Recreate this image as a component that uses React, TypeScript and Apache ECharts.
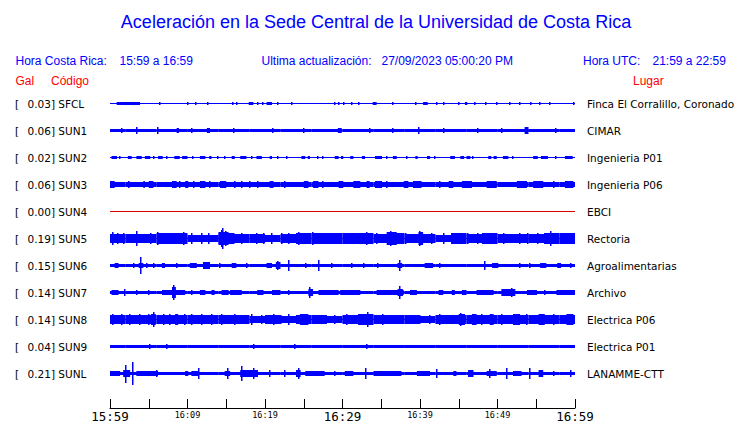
import React, { useEffect, useRef } from "react";
import * as echarts from "echarts";

// ---------- texts ----------
const titleText = "Aceleración en la Sede Central de la Universidad de Costa Rica";
const crLabel = "Hora Costa Rica:";
const crRange = "15:59 a 16:59";
const updLabel = "Ultima actualización:";
const updValue = "27/09/2023 05:00:20 PM";
const utcLabel = "Hora UTC:";
const utcRange = "21:59 a 22:59";
const headGal = "Gal";
const headCode = "Código";
const headPlace = "Lugar";

// ---------- categories ----------
const stations = ["SFCL", "SUN1", "SUN2", "SUN3", "SUN4", "SUN5", "SUN6", "SUN7", "SUN8", "SUN9", "SUNL"];
const peakGal = ["0.03", "0.06", "0.02", "0.06", "0.00", "0.19", "0.15", "0.14", "0.14", "0.04", "0.21"];
const places = [
  "Finca El Corralillo, Coronado", "CIMAR", "Ingenieria P01", "Ingenieria P06", "EBCI", "Rectoria",
  "Agroalimentarias", "Archivo", "Electrica P06", "Electrica P01", "LANAMME-CTT",
];

// ---------- time axis ----------
const tickMinutes = [0, 10, 20, 30, 40, 50, 60];
const tickLabels = ["15:59", "16:09", "16:19", "16:29", "16:39", "16:49", "16:59"];
const majorLabels = ["15:59", "16:29", "16:59"];

// ---------- traces: background envelope (Gal, per 2-minute bin) ----------
const sfclBase = [0, 0, 0, 0, 0, 0, 0, 0, 0, 0, 0, 0, 0, 0, 0, 0, 0, 0, 0, 0, 0, 0, 0, 0, 0, 0, 0, 0, 0, 0];
const sun1Base = [0.03, 0.03, 0.032, 0.03, 0.03, 0.03, 0.028, 0.03, 0.03, 0.03, 0.03, 0.03, 0.028, 0.03, 0.03, 0.03, 0.03, 0.03, 0.03, 0.03, 0.03, 0.028, 0.03, 0.03, 0.03, 0.03, 0.032, 0.03, 0.03, 0.03];
const sun2Base = [0, 0, 0, 0, 0, 0, 0, 0, 0, 0, 0, 0, 0, 0, 0, 0, 0, 0, 0, 0, 0, 0, 0, 0, 0, 0, 0, 0, 0, 0];
const sun3Base = [0.038, 0.038, 0.038, 0.038, 0.038, 0.038, 0.038, 0.038, 0.038, 0.038, 0.038, 0.038, 0.038, 0.038, 0.038, 0.038, 0.038, 0.038, 0.038, 0.038, 0.038, 0.038, 0.038, 0.038, 0.038, 0.038, 0.038, 0.038, 0.038, 0.038];
const sun4Base = [0, 0, 0, 0, 0, 0, 0, 0, 0, 0, 0, 0, 0, 0, 0, 0, 0, 0, 0, 0, 0, 0, 0, 0, 0, 0, 0, 0, 0, 0];
const sun5Base = [0.088, 0.08, 0.08, 0.098, 0.098, 0.071, 0.071, 0.089, 0.08, 0.08, 0.071, 0.08, 0.089, 0.089, 0.089, 0.089, 0.089, 0.08, 0.098, 0.08, 0.08, 0.071, 0.089, 0.08, 0.089, 0.08, 0.08, 0.08, 0.089, 0.098];
const sun6Base = [0.033, 0.033, 0.033, 0.033, 0.033, 0.033, 0.033, 0.033, 0.033, 0.033, 0.033, 0.033, 0.033, 0.033, 0.033, 0.033, 0.033, 0.033, 0.033, 0.033, 0.033, 0.033, 0.033, 0.033, 0.033, 0.033, 0.033, 0.033, 0.033, 0.033];
const sun7Base = [0.033, 0.033, 0.033, 0.033, 0.035, 0.033, 0.033, 0.033, 0.033, 0.033, 0.033, 0.033, 0.033, 0.033, 0.033, 0.033, 0.033, 0.033, 0.033, 0.033, 0.033, 0.033, 0.033, 0.033, 0.033, 0.035, 0.033, 0.033, 0.033, 0.033];
const sun8Base = [0.085, 0.075, 0.085, 0.08, 0.08, 0.08, 0.075, 0.08, 0.075, 0.07, 0.075, 0.07, 0.08, 0.075, 0.07, 0.085, 0.09, 0.075, 0.075, 0.075, 0.07, 0.075, 0.085, 0.08, 0.08, 0.075, 0.08, 0.085, 0.075, 0.08];
const sun9Base = [0.03, 0.03, 0.03, 0.03, 0.03, 0.03, 0.03, 0.03, 0.03, 0.03, 0.03, 0.03, 0.03, 0.03, 0.03, 0.03, 0.03, 0.03, 0.03, 0.03, 0.03, 0.03, 0.03, 0.03, 0.03, 0.03, 0.03, 0.03, 0.03, 0.03];
const sunlBase = [0.03, 0.03, 0.03, 0.03, 0.03, 0.03, 0.03, 0.03, 0.03, 0.03, 0.03, 0.03, 0.03, 0.03, 0.03, 0.03, 0.03, 0.03, 0.03, 0.03, 0.03, 0.03, 0.03, 0.03, 0.03, 0.03, 0.03, 0.03, 0.03, 0.03];

// ---------- traces: bursts and spikes [startMin, endMin, amplitude Gal] ----------
const sfclBursts = [
  [0.86, 3.87, 0.02], [2.0, 2.0, 0.03], [6.4, 6.4, 0.025], [10.0, 10.0, 0.03], [11.0, 11.0, 0.025], [12.6, 12.6, 0.025],
  [15.8, 15.8, 0.025], [16.3, 16.3, 0.03], [17.9, 18.5, 0.02], [19.1, 19.1, 0.03], [19.7, 19.7, 0.025], [20.2, 20.9, 0.02],
  [21.6, 21.6, 0.025], [23.5, 23.5, 0.025], [29.0, 29.0, 0.03], [29.5, 29.5, 0.025], [30.2, 30.2, 0.03], [31.2, 31.2, 0.025],
  [32.1, 32.1, 0.03], [33.9, 34.4, 0.02], [34.0, 34.0, 0.03], [36.5, 36.5, 0.03], [39.4, 39.4, 0.025], [40.4, 41.0, 0.02],
  [42.2, 42.2, 0.025], [43.0, 43.0, 0.025], [45.0, 45.0, 0.025], [45.8, 46.1, 0.02], [47.1, 47.1, 0.025], [48.5, 48.5, 0.025],
  [49.9, 49.9, 0.025], [51.6, 51.6, 0.025], [52.9, 52.9, 0.025], [54.3, 54.3, 0.025], [55.5, 55.5, 0.025], [56.8, 56.8, 0.025],
  [59.9, 59.9, 0.03],
];
const sun1Bursts = [
  [3.5, 3.5, 0.06], [6.2, 6.2, 0.06], [8.6, 8.9, 0.045], [12.5, 12.9, 0.05], [29.4, 29.9, 0.048], [39.8, 39.8, 0.06],
  [53.5, 54.0, 0.055], [1.5, 1.5, 0.04], [10.5, 10.5, 0.04], [16.0, 16.0, 0.04], [21.0, 21.0, 0.04], [25.0, 25.0, 0.04],
  [33.5, 33.5, 0.04], [36.5, 36.5, 0.04], [43.0, 43.0, 0.04], [47.5, 47.5, 0.04], [50.5, 50.5, 0.04], [57.5, 57.5, 0.04],
];
const sun2Bursts = [
  [0.2, 0.9, 0.02], [1.2, 1.2, 0.02], [2.3, 2.8, 0.02], [3.4, 4.1, 0.02], [4.5, 5.2, 0.02], [5.6, 5.6, 0.02],
  [6.2, 6.8, 0.02], [7.3, 7.3, 0.02], [8.3, 9.0, 0.02], [9.3, 10.0, 0.02], [10.7, 10.7, 0.02], [11.6, 12.3, 0.02],
  [12.8, 13.1, 0.02], [13.9, 13.9, 0.02], [14.8, 14.8, 0.02], [15.7, 16.1, 0.02], [16.8, 17.6, 0.02], [18.3, 18.3, 0.02],
  [18.9, 19.6, 0.02], [20.6, 20.9, 0.02], [21.7, 21.7, 0.02], [22.8, 22.8, 0.02], [24.7, 25.2, 0.02], [25.5, 25.8, 0.02],
  [26.8, 26.8, 0.02], [27.5, 27.5, 0.02], [29.0, 29.5, 0.02], [29.8, 30.1, 0.02], [31.0, 31.4, 0.02], [32.5, 32.9, 0.02],
  [34.2, 35.1, 0.02], [35.7, 35.7, 0.02], [36.5, 37.0, 0.02], [38.3, 38.3, 0.02], [39.4, 39.7, 0.02], [40.9, 41.3, 0.02],
  [41.9, 41.9, 0.02], [43.9, 44.5, 0.02], [45.2, 45.7, 0.02], [46.0, 46.5, 0.02], [46.8, 46.8, 0.02], [48.8, 49.2, 0.02],
  [49.5, 49.9, 0.02], [50.7, 51.4, 0.02], [52.0, 52.0, 0.02], [54.6, 55.2, 0.02], [55.6, 56.5, 0.02], [57.5, 57.5, 0.02],
  [58.7, 59.7, 0.02],
];
const sun3Bursts = [
  [0.0, 0.6, 0.064], [2.4, 2.4, 0.058], [4.3, 4.5, 0.058], [5.0, 5.6, 0.058], [8.0, 8.6, 0.058], [9.0, 9.0, 0.058],
  [9.7, 10.1, 0.058], [10.8, 10.8, 0.058], [11.6, 12.3, 0.058], [11.9, 11.9, 0.066], [12.9, 12.9, 0.058], [14.2, 15.0, 0.058],
  [16.1, 16.1, 0.058], [17.0, 17.0, 0.058], [18.0, 18.0, 0.058], [19.1, 19.1, 0.058], [20.6, 21.1, 0.058], [22.6, 22.6, 0.058],
  [25.0, 25.6, 0.064], [26.2, 26.9, 0.058], [27.5, 27.5, 0.058], [29.5, 30.1, 0.058], [31.4, 32.3, 0.058], [33.1, 33.5, 0.058],
  [34.2, 35.1, 0.058], [35.7, 35.7, 0.058], [37.9, 38.5, 0.058], [39.1, 40.2, 0.058], [42.6, 42.6, 0.058], [43.7, 44.3, 0.058],
  [45.4, 46.7, 0.058], [48.6, 49.9, 0.058], [52.5, 53.8, 0.058], [54.6, 55.9, 0.064], [57.2, 57.2, 0.058], [58.7, 59.8, 0.058],
];
const sun4Bursts: number[][] = [];
const sun5Bursts = [
  [0.3, 0.3, 0.11], [1.0, 1.0, 0.1], [1.8, 1.8, 0.1], [3.4, 3.4, 0.13], [5.2, 5.2, 0.1], [6.2, 6.2, 0.11], [6.9, 6.9, 0.1],
  [7.8, 7.8, 0.1], [9.0, 9.0, 0.1], [9.5, 9.5, 0.115], [10.5, 10.5, 0.095], [11.8, 11.8, 0.09], [12.8, 12.8, 0.09],
  [14.0, 15.3, 0.11], [14.4, 14.4, 0.15], [14.6, 14.6, 0.19], [14.9, 14.9, 0.14], [16.0, 16.0, 0.095], [17.0, 17.0, 0.1],
  [18.9, 18.9, 0.09], [19.8, 19.8, 0.09], [20.9, 20.9, 0.1], [22.2, 22.2, 0.095], [23.1, 23.1, 0.1], [24.3, 24.3, 0.12],
  [25.4, 25.4, 0.1], [26.2, 26.2, 0.11], [27.6, 27.6, 0.1], [28.3, 28.3, 0.095], [29.0, 29.0, 0.1], [30.5, 30.5, 0.1],
  [31.8, 31.8, 0.1], [33.1, 33.1, 0.11], [34.4, 34.4, 0.095], [35.7, 37.0, 0.12], [36.2, 36.2, 0.14], [38.2, 38.2, 0.095],
  [39.8, 40.4, 0.11], [40.0, 40.0, 0.125], [41.5, 41.5, 0.09], [43.0, 43.0, 0.09], [44.2, 44.9, 0.1], [46.2, 46.2, 0.1],
  [47.5, 47.5, 0.095], [49.0, 49.6, 0.105], [50.8, 50.8, 0.09], [52.9, 52.9, 0.1], [53.9, 53.9, 0.1], [55.2, 55.2, 0.095],
  [56.5, 57.2, 0.1], [56.9, 56.9, 0.125], [58.4, 58.4, 0.1], [59.8, 59.8, 0.1],
];
const sun6Bursts = [
  [0.6, 1.1, 0.045], [3.0, 3.0, 0.045], [3.7, 4.3, 0.05], [4.0, 4.0, 0.15], [4.8, 4.8, 0.04], [5.6, 5.6, 0.04],
  [6.7, 7.1, 0.045], [8.6, 8.6, 0.04], [10.3, 11.2, 0.05], [12.0, 12.9, 0.06], [12.4, 12.4, 0.07], [14.2, 14.2, 0.045],
  [15.7, 16.3, 0.045], [17.6, 17.6, 0.045], [20.2, 20.9, 0.045], [21.4, 22.0, 0.06], [21.7, 21.7, 0.075], [23.0, 23.0, 0.105],
  [25.2, 25.2, 0.045], [26.9, 26.9, 0.09], [28.6, 28.6, 0.05], [31.2, 31.2, 0.045], [32.7, 32.7, 0.045], [34.6, 34.6, 0.045],
  [37.1, 37.7, 0.05], [37.4, 37.4, 0.1], [40.6, 41.7, 0.045], [42.6, 42.6, 0.045], [48.4, 48.4, 0.085], [49.3, 50.1, 0.04],
  [52.9, 52.9, 0.04], [54.2, 54.2, 0.05], [55.5, 56.3, 0.045], [57.7, 58.2, 0.05], [59.4, 59.4, 0.045],
];
const sun7Bursts = [
  [0.2, 1.1, 0.045], [1.85, 1.85, 0.06], [3.5, 3.5, 0.04], [5.0, 5.0, 0.04], [6.7, 9.7, 0.05], [8.0, 8.5, 0.09],
  [8.2, 8.2, 0.14], [10.5, 10.5, 0.05], [11.6, 12.3, 0.05], [13.1, 13.5, 0.045], [14.4, 15.3, 0.045], [15.5, 17.0, 0.05],
  [19.0, 19.8, 0.05], [20.9, 22.0, 0.045], [23.0, 23.0, 0.045], [25.6, 26.2, 0.055], [25.8, 25.8, 0.09], [26.9, 29.5, 0.04],
  [27.6, 27.6, 0.05], [29.7, 32.3, 0.045], [34.4, 37.9, 0.045], [37.1, 37.8, 0.07], [37.4, 37.4, 0.11], [38.7, 39.6, 0.05],
  [42.4, 43.0, 0.045], [44.1, 44.5, 0.04], [45.4, 46.0, 0.045], [47.3, 49.5, 0.045], [50.5, 52.3, 0.055], [51.8, 51.8, 0.075],
  [53.8, 55.1, 0.045], [56.1, 56.1, 0.045], [57.6, 60.0, 0.045],
];
const sun8Bursts = [
  [0.4, 0.4, 0.1], [1.5, 1.5, 0.1], [2.6, 2.6, 0.09], [3.9, 3.9, 0.09], [5.0, 5.0, 0.1], [5.3, 5.9, 0.1], [5.6, 5.6, 0.14],
  [6.9, 6.9, 0.1], [7.7, 7.7, 0.09], [8.4, 8.8, 0.09], [9.6, 9.6, 0.09], [10.5, 10.5, 0.095], [11.8, 11.8, 0.09],
  [13.1, 13.1, 0.1], [14.4, 14.4, 0.1], [16.1, 16.1, 0.09], [17.2, 17.2, 0.085], [18.3, 18.3, 0.09], [19.6, 19.6, 0.085],
  [21.1, 21.1, 0.1], [22.0, 22.0, 0.085], [23.0, 23.0, 0.09], [24.5, 25.6, 0.095], [25.2, 25.2, 0.105], [27.0, 27.0, 0.085],
  [29.0, 29.0, 0.085], [30.5, 30.5, 0.09], [32.3, 33.8, 0.1], [33.3, 33.3, 0.14], [35.2, 35.2, 0.09], [36.8, 36.8, 0.085],
  [38.4, 38.4, 0.085], [40.0, 40.0, 0.085], [41.2, 41.2, 0.085], [42.6, 42.6, 0.09], [43.8, 43.8, 0.085], [45.0, 45.8, 0.1],
  [45.2, 45.2, 0.11], [46.7, 47.3, 0.1], [48.0, 48.0, 0.09], [49.0, 49.5, 0.1], [50.6, 50.6, 0.09], [52.0, 52.9, 0.09],
  [53.8, 53.8, 0.09], [55.3, 56.1, 0.105], [57.3, 57.3, 0.09], [58.9, 59.8, 0.09],
];
const sun9Bursts = [
  [5.1, 5.1, 0.04], [7.3, 7.3, 0.04], [18.5, 18.5, 0.04], [23.9, 23.9, 0.04], [29.0, 29.0, 0.035], [31.2, 31.2, 0.035],
  [33.1, 33.1, 0.05], [37.9, 37.9, 0.035], [39.5, 39.5, 0.035], [42.2, 42.2, 0.035], [44.7, 44.7, 0.035], [59.1, 59.1, 0.035],
];
const sunlBursts = [
  [0.0, 1.3, 0.04], [1.7, 2.6, 0.06], [2.0, 2.0, 0.16], [2.9, 2.9, 0.21], [3.4, 6.2, 0.045], [6.0, 6.0, 0.06],
  [9.7, 10.1, 0.04], [10.5, 11.4, 0.045], [11.4, 11.4, 0.09], [14.8, 15.5, 0.05], [15.2, 15.2, 0.09], [16.8, 19.1, 0.055],
  [17.0, 17.0, 0.125], [18.6, 18.6, 0.105], [20.6, 20.6, 0.07], [22.6, 22.6, 0.07], [24.0, 24.6, 0.055], [24.3, 24.3, 0.105],
  [25.2, 27.7, 0.04], [29.0, 29.0, 0.045], [30.3, 31.4, 0.05], [33.0, 33.0, 0.105], [34.0, 37.6, 0.04], [39.6, 41.3, 0.04],
  [42.2, 42.2, 0.08], [44.3, 44.7, 0.04], [46.2, 46.9, 0.055], [48.6, 49.9, 0.05], [49.0, 49.0, 0.08], [51.2, 51.2, 0.1],
  [52.0, 53.1, 0.045], [54.2, 54.2, 0.105], [55.3, 55.9, 0.055], [57.2, 57.2, 0.04], [59.4, 59.4, 0.055],
];

const traceBases = [sfclBase, sun1Base, sun2Base, sun3Base, sun4Base, sun5Base, sun6Base, sun7Base, sun8Base, sun9Base, sunlBase];
const traceBursts = [sfclBursts, sun1Bursts, sun2Bursts, sun3Bursts, sun4Bursts, sun5Bursts, sun6Bursts, sun7Bursts, sun8Bursts, sun9Bursts, sunlBursts];

const BLUE = "#0000ff";
const RED = "#ff0000";
const TRACE_RED = "#e00000";
const LEFT = 110;
const WIDTH = 465;
const ROW0 = 103.5;
const ROW_STEP = 27;
const ROW_H = 27;
const Y_HALF = 0.24;
const LABEL_FONT = "DejaVu Sans";
const HEAD_FONT = "Liberation Sans";

function rectRender(color: string) {
  return (params: any, api: any) => {
    const a = api.value(2);
    if (!(a > 0)) return null;
    const p1 = api.coord([api.value(0), a]);
    const p2 = api.coord([api.value(1), -a]);
    let x = p1[0];
    let w = p2[0] - p1[0];
    if (w < 1.5) {
      x = Math.round((p1[0] + p2[0]) / 2 - 0.75);
      w = 1.5;
    }
    const y1 = Math.round(p1[1]);
    const y2 = Math.max(Math.round(p2[1]), y1 + 2);
    return {
      type: "rect",
      shape: { x, y: y1, width: w, height: y2 - y1 },
      style: { fill: color },
    };
  };
}

export default function App() {
  const ref = useRef<HTMLDivElement>(null);

  useEffect(() => {
    if (!ref.current) return;
    const chart = echarts.init(ref.current, undefined, { renderer: "svg" });

    const n = stations.length;
    const grids: any[] = [];
    const xAxes: any[] = [];
    const yAxes: any[] = [];
    const series: any[] = [];

    for (let i = 0; i < n; i++) {
      const color = stations[i] === "SUN4" ? TRACE_RED : BLUE;
      grids.push({ left: LEFT, width: WIDTH, top: ROW0 - ROW_H / 2 + i * ROW_STEP, height: ROW_H });
      xAxes.push({ type: "value", gridIndex: i, min: 0, max: 60, show: false });
      yAxes.push({ type: "value", gridIndex: i, min: -Y_HALF, max: Y_HALF, show: false });
      series.push({
        type: "line",
        xAxisIndex: i,
        yAxisIndex: i,
        data: [[0, 0], [60, 0]],
        symbol: "none",
        silent: true,
        lineStyle: { color, width: 1 },
      });
      series.push({
        type: "custom",
        xAxisIndex: i,
        yAxisIndex: i,
        silent: true,
        encode: { x: [0, 1], y: 2 },
        data: traceBases[i].map((a, k) => [k * 2, k * 2 + 2, a]),
        renderItem: rectRender(color),
      });
      series.push({
        type: "custom",
        xAxisIndex: i,
        yAxisIndex: i,
        silent: true,
        encode: { x: [0, 1], y: 2 },
        data: traceBursts[i],
        renderItem: rectRender(color),
      });
    }

    // time axis
    grids.push({ left: LEFT, width: WIDTH, top: 399, height: 10 });
    xAxes.push({
      type: "value",
      gridIndex: n,
      min: 0,
      max: 60,
      interval: 5,
      position: "bottom",
      axisLine: { show: true, lineStyle: { color: "#000", width: 1 } },
      axisTick: { show: true, inside: true, length: 9, lineStyle: { color: "#000", width: 1 } },
      splitLine: { show: false },
      axisLabel: {
        show: true,
        margin: 2,
        showMinLabel: true,
        showMaxLabel: true,
        hideOverlap: false,
        formatter: (v: number) => {
          const idx = tickMinutes.indexOf(Math.round(v));
          if (idx < 0) return "";
          const lab = tickLabels[idx];
          return majorLabels.indexOf(lab) >= 0 ? `{big|${lab}}` : `{small|${lab}}`;
        },
        rich: {
          big: { fontFamily: "DejaVu Sans Mono", fontSize: 12.5, color: "#000", lineHeight: 13 },
          small: { fontFamily: "DejaVu Sans Mono", fontSize: 8.5, color: "#000", lineHeight: 10 },
        },
      },
    });
    yAxes.push({ type: "value", gridIndex: n, min: 0, max: 1, show: false });
    series.push({ type: "line", xAxisIndex: n, yAxisIndex: n, data: [], silent: true });

    const graphic: any[] = [
      {
        type: "text",
        x: 376,
        y: 22,
        style: { text: titleText, font: `18px '${HEAD_FONT}'`, fill: BLUE, textAlign: "center", textVerticalAlign: "middle" },
      },
      { type: "text", x: 15.5, y: 61, style: { text: crLabel, font: `12px '${HEAD_FONT}'`, fill: BLUE, textVerticalAlign: "middle" } },
      { type: "text", x: 119.5, y: 61, style: { text: crRange, font: `12px '${HEAD_FONT}'`, fill: BLUE, textVerticalAlign: "middle" } },
      { type: "text", x: 261.5, y: 61, style: { text: updLabel, font: `12px '${HEAD_FONT}'`, fill: BLUE, textVerticalAlign: "middle" } },
      { type: "text", x: 381.5, y: 61, style: { text: updValue, font: `12px '${HEAD_FONT}'`, fill: BLUE, textVerticalAlign: "middle" } },
      { type: "text", x: 583, y: 61, style: { text: utcLabel, font: `12px '${HEAD_FONT}'`, fill: BLUE, textVerticalAlign: "middle" } },
      { type: "text", x: 652.5, y: 61, style: { text: utcRange, font: `12px '${HEAD_FONT}'`, fill: BLUE, textVerticalAlign: "middle" } },
      { type: "text", x: 15.5, y: 81, style: { text: headGal, font: `12px '${HEAD_FONT}'`, fill: RED, textVerticalAlign: "middle" } },
      { type: "text", x: 51, y: 81, style: { text: headCode, font: `12px '${HEAD_FONT}'`, fill: RED, textVerticalAlign: "middle" } },
      { type: "text", x: 633, y: 81, style: { text: headPlace, font: `12px '${HEAD_FONT}'`, fill: RED, textVerticalAlign: "middle" } },
    ];
    for (let i = 0; i < n; i++) {
      const cy = ROW0 + i * ROW_STEP;
      graphic.push({ type: "text", x: 15, y: cy, style: { text: "[", font: `10.5px '${LABEL_FONT}'`, fill: "#000", textVerticalAlign: "middle" } });
      graphic.push({
        type: "text",
        x: 27.5,
        y: cy,
        style: { text: `${peakGal[i]}] ${stations[i]}`, font: `10.5px '${LABEL_FONT}'`, fill: "#000", textVerticalAlign: "middle" },
      });
      graphic.push({
        type: "text",
        x: 587,
        y: cy,
        style: { text: places[i], font: `10.5px '${LABEL_FONT}'`, fill: "#000", textVerticalAlign: "middle" },
      });
    }

    chart.setOption({
      animation: false,
      backgroundColor: "#ffffff",
      grid: grids,
      xAxis: xAxes,
      yAxis: yAxes,
      series,
      graphic,
    });

    return () => chart.dispose();
  }, []);

  return (
    <div
      ref={ref}
      style={{ position: "absolute", left: 0, top: 0, width: 740, height: 423, background: "#fff" }}
    />
  );
}
